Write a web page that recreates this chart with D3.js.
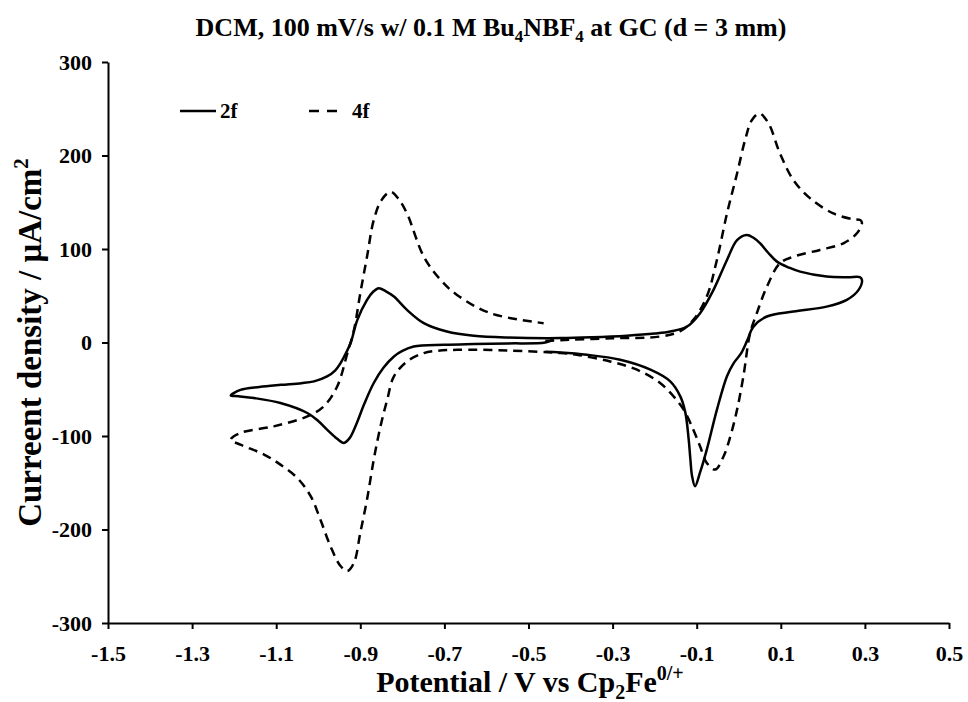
<!DOCTYPE html>
<html>
<head>
<meta charset="utf-8">
<script src="https://cdn.jsdelivr.net/npm/d3@7/dist/d3.min.js"></script>
<style>
  html, body { margin: 0; padding: 0; background: #fff; }
  svg { display: block; font-family: "Liberation Serif", "Times New Roman", serif; font-weight: bold; }
</style>
</head>
<body>
<svg id="chart" width="968" height="702"></svg>
<script>
// Cyclic voltammograms: [potential (V vs Fc), current density (µA/cm²)] in scan order
const series2f = [
  [-0.44, 3], [-0.46, 0], [-0.55, -1], [-0.63, -1.7], [-0.70, -2.5], [-0.773, -4.3],
  [-0.80, -9], [-0.82, -14.9], [-0.845, -27], [-0.868, -43.3], [-0.89, -65], [-0.91, -88],
  [-0.925, -102], [-0.939, -107.4], [-0.955, -103], [-0.979, -93.2], [-1.0, -84],
  [-1.026, -75.4], [-1.09, -64.7], [-1.153, -59.4], [-1.19, -57.5], [-1.208, -56.6],
  [-1.185, -50.7], [-1.14, -47.5], [-1.089, -45.3], [-1.04, -43.5], [-1.01, -41.6],
  [-0.979, -36.3], [-0.96, -30], [-0.947, -22], [-0.935, -12], [-0.923, -0.6],
  [-0.907, 24.2], [-0.884, 45.6], [-0.87, 54], [-0.856, 58.1], [-0.84, 55], [-0.82, 49.1],
  [-0.789, 34.9], [-0.749, 20.7], [-0.694, 11.7], [-0.63, 7.2], [-0.551, 5.3], [-0.424, 4.7],
  [-0.35, 5.5], [-0.266, 7.2], [-0.2, 9.5], [-0.163, 11.7], [-0.123, 17.1], [-0.092, 31.4],
  [-0.06, 56.3], [-0.028, 88.3], [-0.004, 109.6], [0.019, 115], [0.035, 112], [0.051, 106],
  [0.07, 96], [0.091, 86.5], [0.12, 80], [0.146, 75.8], [0.209, 70.5], [0.26, 69.8],
  [0.288, 69.8], [0.293, 66.9], [0.285, 56.3], [0.257, 45.6], [0.209, 38.4], [0.13, 33.1],
  [0.067, 27.8], [0.035, 17], [0.02, 2], [0.005, -12], [-0.012, -22], [-0.028, -36],
  [-0.052, -72], [-0.076, -114.5], [-0.092, -139], [-0.104, -153.7], [-0.111, -143],
  [-0.115, -125], [-0.119, -104], [-0.127, -75], [-0.139, -57.6], [-0.163, -41.6],
  [-0.21, -29.1], [-0.282, -18.5], [-0.361, -13.1], [-0.424, -10.7], [-0.46, -10]
];

const series4f = [
  [-0.46, 1.5], [-0.424, 2.5], [-0.3, 4.5], [-0.187, 6.4], [-0.14, 12], [-0.108, 24.2],
  [-0.076, 49.1], [-0.052, 88.3], [-0.028, 138], [-0.004, 180.8], [0.015, 216.4],
  [0.031, 237.7], [0.049, 244.9], [0.071, 234.2], [0.098, 202.2], [0.13, 173.7],
  [0.17, 154.1], [0.225, 138], [0.27, 132], [0.289, 131], [0.293, 128], [0.281, 116.8],
  [0.249, 106.1], [0.193, 99], [0.13, 91.8], [0.098, 84.8], [0.067, 59.8], [0.043, 31.4],
  [0.027, 10], [0.011, -36.3], [-0.004, -71.8], [-0.02, -100.4], [-0.036, -121.7],
  [-0.056, -135.9], [-0.076, -128.8], [-0.092, -111], [-0.108, -93.2], [-0.131, -71.8],
  [-0.155, -57.6], [-0.187, -43.3], [-0.242, -29.1], [-0.306, -20.3], [-0.385, -13.1],
  [-0.424, -11.3], [-0.551, -8.5], [-0.67, -7.8], [-0.72, -9], [-0.749, -11.3],
  [-0.789, -20.3], [-0.82, -36.3], [-0.836, -61.2], [-0.852, -89.7], [-0.868, -125.2],
  [-0.884, -167.9], [-0.9, -203.5], [-0.915, -235.5], [-0.931, -244.5], [-0.947, -239.1],
  [-0.971, -217.8], [-0.995, -189.3], [-1.018, -164.4], [-1.05, -144.8], [-1.09, -130.6],
  [-1.129, -119.9], [-1.185, -109.2], [-1.208, -104], [-1.185, -96.7], [-1.106, -89.7],
  [-1.026, -79], [-0.987, -68.3], [-0.955, -47], [-0.931, -12], [-0.915, 13.6],
  [-0.9, 52.7], [-0.884, 91.8], [-0.868, 131], [-0.85, 152], [-0.828, 161.2], [-0.81, 154],
  [-0.789, 138], [-0.749, 91.8], [-0.709, 66.9], [-0.67, 50.9], [-0.591, 31.4], [-0.464, 20.7]
];

const xTicks = [-1.5, -1.3, -1.1, -0.9, -0.7, -0.5, -0.3, -0.1, 0.1, 0.3, 0.5];
const yTicks = [-300, -200, -100, 0, 100, 200, 300];
const legendLabels = ["2f", "4f"];

const svg = d3.select("#chart");
const plotLeft = 108, plotRight = 949, plotTop = 62, plotBottom = 623;

const x = d3.scaleLinear().domain([-1.5, 0.5]).range([plotLeft, plotRight]);
const y = d3.scaleLinear().domain([-300, 300]).range([plotBottom, plotTop]);

// Title
const title = svg.append("text")
  .attr("x", 491).attr("y", 36)
  .attr("text-anchor", "middle")
  .attr("font-size", 26);
title.append("tspan").text("DCM, 100 mV/s w/ 0.1 M Bu");
title.append("tspan").attr("font-size", 17).attr("dy", 6).text("4");
title.append("tspan").attr("dy", -6).text("NBF");
title.append("tspan").attr("font-size", 17).attr("dy", 6).text("4");
title.append("tspan").attr("dy", -6).text(" at GC (d = 3 mm)");

// Axes (hyphen-minus labels)
const xAxis = d3.axisBottom(x).tickValues(xTicks).tickSize(6).tickSizeOuter(0)
  .tickFormat(d => d.toFixed(1));
const yAxis = d3.axisLeft(y).tickValues(yTicks).tickSize(6).tickSizeOuter(0)
  .tickFormat(d => String(d));

const gx = svg.append("g").attr("transform", `translate(0,${plotBottom})`).call(xAxis);
const gy = svg.append("g").attr("transform", `translate(${plotLeft},0)`).call(yAxis);

[gx, gy].forEach(g => {
  g.select(".domain").attr("stroke", "#000").attr("stroke-width", 2);
  g.selectAll(".tick line").attr("stroke", "#000").attr("stroke-width", 2);
  g.selectAll(".tick text")
    .attr("font-family", "Liberation Serif, Times New Roman, serif")
    .attr("font-weight", "bold")
    .attr("font-size", 22)
    .attr("fill", "#000");
});
gx.selectAll(".tick text").attr("dy", 0).attr("y", 38);
gy.selectAll(".tick text").attr("x", -16).attr("dy", "0.34em");

// Axis titles
const xt = svg.append("text")
  .attr("x", 530).attr("y", 692)
  .attr("text-anchor", "middle")
  .attr("font-size", 30);
xt.append("tspan").text("Potential / V vs Cp");
xt.append("tspan").attr("font-size", 20).attr("dy", 7).text("2");
xt.append("tspan").attr("dy", -7).text("Fe");
xt.append("tspan").attr("font-size", 20).attr("dy", -12).text("0/+");

const yt = svg.append("text")
  .attr("transform", `translate(41,${(plotTop + plotBottom) / 2}) rotate(-90)`)
  .attr("text-anchor", "middle")
  .attr("font-size", 33);
yt.append("tspan").text("Curreent density / μA/cm");
yt.append("tspan").attr("font-size", 21).attr("dy", -13).text("2");

// Curves
const line = d3.line()
  .x(d => x(d[0]))
  .y(d => y(d[1]))
  .curve(d3.curveCatmullRom.alpha(0.5));

svg.append("path")
  .datum(series4f)
  .attr("fill", "none")
  .attr("stroke", "#000")
  .attr("stroke-width", 2.5)
  .attr("stroke-dasharray", "9,6")
  .attr("d", line);

svg.append("path")
  .datum(series2f)
  .attr("fill", "none")
  .attr("stroke", "#000")
  .attr("stroke-width", 2.5)
  .attr("d", line);

// Legend
const legend = svg.append("g");
legend.append("line")
  .attr("x1", 180).attr("x2", 216).attr("y1", 111).attr("y2", 111)
  .attr("stroke", "#000").attr("stroke-width", 2.5);
legend.append("text").attr("x", 220).attr("y", 118).attr("font-size", 21).text(legendLabels[0]);
legend.append("line")
  .attr("x1", 309).attr("x2", 343).attr("y1", 111).attr("y2", 111)
  .attr("stroke", "#000").attr("stroke-width", 2.5)
  .attr("stroke-dasharray", "10,8");
legend.append("text").attr("x", 352).attr("y", 118).attr("font-size", 21).text(legendLabels[1]);
</script>
</body>
</html>
